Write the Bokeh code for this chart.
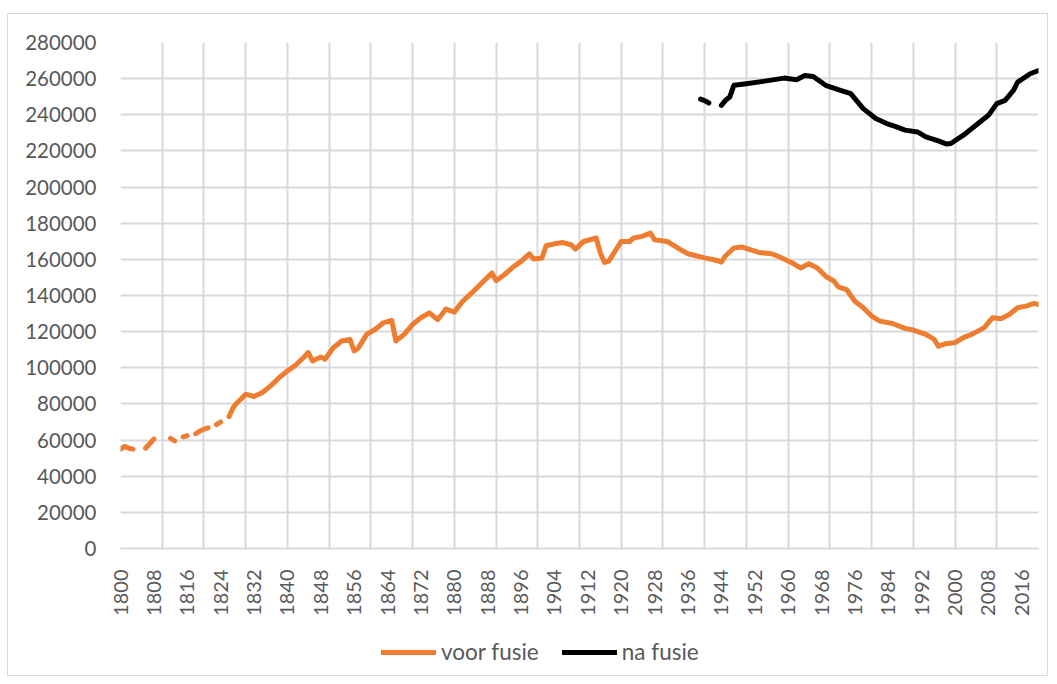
import math
from bokeh.plotting import figure
from bokeh.layouts import column
from bokeh.models import FixedTicker, Legend, LegendItem, NumeralTickFormatter
from bokeh.embed import file_html
from bokeh.resources import INLINE

nan = float("nan")

# "voor fusie" (orange) - years and population; nan = missing year (gap)
voor_years = [1800, 1801, 1802, 1803, 1804,
              1806, 1807, 1808, 1809,
              1812, 1813, 1814,
              1815, 1816, 1817,
              1818, 1819, 1820, 1821, 1822,
              1823, 1824, 1825,
              1826, 1827, 1828, 1829, 1830, 1832, 1834, 1836, 1838, 1840,
              1842, 1844, 1845, 1846, 1848, 1849, 1851, 1853, 1855, 1856,
              1857, 1859, 1861, 1863, 1865, 1866, 1868, 1870, 1872, 1874,
              1876, 1877, 1878, 1880, 1882, 1884, 1887, 1889, 1890, 1892,
              1894, 1896, 1898, 1899, 1901, 1902, 1904, 1906, 1908, 1909,
              1911, 1914, 1915, 1916, 1917, 1918, 1920, 1922, 1923, 1925,
              1927, 1928, 1931, 1934, 1936, 1940, 1943, 1944, 1945, 1947,
              1949, 1953, 1956, 1958, 1961, 1963, 1965, 1967, 1969, 1971,
              1972, 1974, 1976, 1978, 1980, 1982, 1985, 1988, 1990, 1993,
              1995, 1996, 1998, 2000, 2002, 2004, 2007, 2009, 2011, 2013,
              2015, 2017, 2019, 2020]
voor_values = [55000, 56500, 55500, 55000, nan,
               55500, 58000, 60500, nan,
               61000, 59500, nan,
               61800, 62400, nan,
               63500, 65000, 66000, 66800, nan,
               68500, 70000, nan,
               73000, 78000, 80800, 83000, 85400, 84100, 86300, 90000, 94500, 98300,
               101500, 106000, 108400, 103800, 106000, 104700, 111100, 114800, 115700, 109300,
               111000, 118500, 121200, 124900, 126200, 114800, 118500, 124000, 127700, 130400,
               126700, 129500, 132500, 130800, 136800, 141000, 147900, 152500, 148200, 151500,
               155600, 158900, 163000, 160200, 160800, 167500, 168600, 169300, 168100, 165700,
               169900, 171800, 163500, 158300, 159000, 162600, 169900, 169900, 171800, 172700,
               174500, 170800, 169900, 165700, 163100, 160800, 159400, 158500, 162000, 166300,
               166800, 163800, 163100, 161300, 158000, 155200, 157600, 155200, 150600, 147900,
               144800, 143300, 136800, 133200, 128600, 125800, 124500, 121800, 120900, 118500,
               115700, 112000, 113500, 113900, 116700, 118500, 122200, 127700, 127100, 129500,
               133200, 134100, 135600, 135000]

# "na fusie" (black)
na_years = [1939, 1940, 1941, 1942,
            1944, 1945, 1946, 1947, 1950, 1954, 1959, 1962, 1964, 1966,
            1969, 1972, 1975, 1978, 1981, 1984, 1986, 1988, 1991, 1993,
            1996, 1998, 1999, 2002, 2005, 2008, 2010, 2012, 2014, 2015,
            2018, 2020]
na_values = [248700, 247800, 246500, nan,
             245200, 248000, 249800, 256300, 257200, 258500, 260300, 259400, 261700, 261200,
             256300, 253900, 251700, 243400, 237900, 234800, 233300, 231500, 230500, 227800,
             225600, 223800, 224100, 228700, 234200, 239700, 246200, 248000, 253500, 258100,
             262700, 264500]

series_names = ["voor fusie", "na fusie"]
series_colors = ["#ED7D31", "#000000"]

x_tick_labels = list(range(1800, 2017, 8))
x_grid_years = list(range(1800, 2021, 10))
y_ticks = list(range(0, 280001, 20000))

GRID = "#d9d9d9"
TEXT = "#595959"
FONT = "Lato"
LW = 5

p = figure(width=1039, height=604, x_range=(1800, 2020), y_range=(0, 280000),
           output_backend="svg", toolbar_location=None,
           min_border_left=112, min_border_right=9, min_border_top=28, min_border_bottom=68)
p.outline_line_color = None
p.background_fill_color = "white"
p.border_fill_color = "white"

p.line(voor_years, voor_values, line_color=series_colors[0], line_width=LW, line_cap="round", line_join="round")
p.line(na_years, na_values, line_color=series_colors[1], line_width=LW, line_cap="round", line_join="round")

p.xaxis.ticker = FixedTicker(ticks=x_tick_labels)
p.xaxis.major_label_orientation = math.pi / 2
p.xaxis.major_tick_line_color = None
p.xaxis.minor_tick_line_color = None
p.xaxis.axis_line_color = GRID
p.xaxis.axis_line_width = 2
p.xaxis.major_label_standoff = 15
p.xaxis.major_label_text_font = FONT
p.xaxis.major_label_text_font_size = "20px"
p.xaxis.major_label_text_color = TEXT

p.yaxis.ticker = FixedTicker(ticks=y_ticks)
p.yaxis.formatter = NumeralTickFormatter(format="0")
p.yaxis.major_tick_line_color = None
p.yaxis.minor_tick_line_color = None
p.yaxis.axis_line_color = None
p.yaxis.major_label_standoff = 18
p.yaxis.major_label_text_font = FONT
p.yaxis.major_label_text_font_size = "20.5px"
p.yaxis.major_label_text_color = TEXT

p.xgrid.ticker = FixedTicker(ticks=x_grid_years)
p.xgrid.grid_line_color = GRID
p.xgrid.grid_line_width = 2
p.ygrid.ticker = FixedTicker(ticks=y_ticks)
p.ygrid.grid_line_color = GRID
p.ygrid.grid_line_width = 2

# Legend strip below the chart (same series, ranges chosen so the lines stay off-screen)
lf = figure(width=1039, height=57, x_range=(0, 1), y_range=(0, 1),
            output_backend="svg", toolbar_location=None,
            x_axis_location=None, y_axis_location=None,
            min_border_left=0, min_border_right=0, min_border_top=0, min_border_bottom=0)
lf.grid.visible = False
lf.outline_line_color = None
lf.background_fill_color = "white"
lf.border_fill_color = "white"
l1 = lf.line(voor_years, voor_values, line_color=series_colors[0], line_width=LW, line_cap="round")
l2 = lf.line(na_years, na_values, line_color=series_colors[1], line_width=LW, line_cap="round")

legend = Legend(items=[LegendItem(label=series_names[0], renderers=[l1]),
                       LegendItem(label=series_names[1], renderers=[l2])],
                location=(261, 10), orientation="horizontal",
                glyph_width=55, glyph_height=20, label_standoff=5, spacing=23,
                padding=0, margin=0, border_line_color=None, background_fill_alpha=0,
                label_text_font=FONT, label_text_font_size="22.5px", label_text_color=TEXT)
lf.add_layout(legend, "center")

layout = column(p, lf, spacing=0)
layout.margin = (13, 0, 0, 7)
layout.styles = {"border": "1px solid #d9d9d9"}

open("out.html", "w").write(file_html(layout, INLINE))
